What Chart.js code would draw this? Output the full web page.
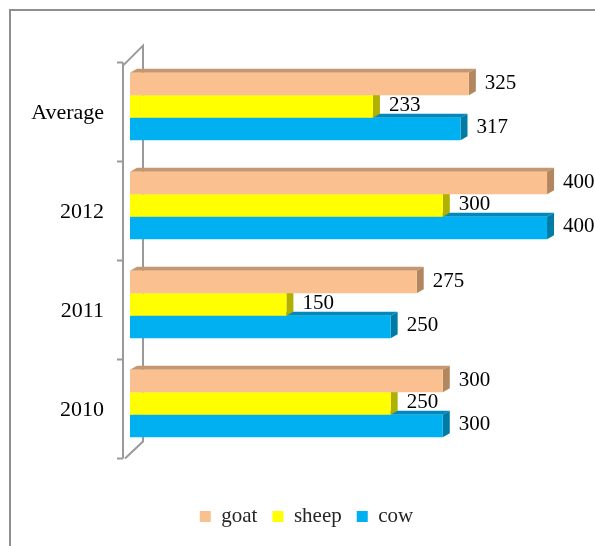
<!DOCTYPE html>
<html lang="en">
<head>
    <meta charset="UTF-8">
    <title>goat sheep cow</title>
    <script src="https://cdn.jsdelivr.net/npm/chart.js"></script>
    <style>
        html, body { margin: 0; padding: 0; background: #fff; overflow: hidden; }
        #wrap { width: 595px; height: 546px; position: relative; }
    </style>
</head>
<body>
<div id="wrap">
    <canvas id="barChart" width="595" height="546"></canvas>
</div>
<script>
    // Data (top to bottom)
    const categories = ['Average', '2012', '2011', '2010'];
    const goat = [325, 400, 275, 300];
    const sheep = [233, 300, 150, 250];
    const cow = [317, 400, 250, 300];

    const seriesNames = ['goat', 'sheep', 'cow'];
    const frontColors = ['#FAC090', '#FFFF00', '#00B0F0'];
    const topColors = ['#C4976F', '#C8C800', '#0089BC'];
    const sideColors = ['#B2875F', '#B0B000', '#007BA6'];

    const DX = 7, DY = 4; // bar depth

    // frame, axis walls and bar depth faces
    const backFaces = {
        id: 'backFaces',
        beforeDraw(chart) {
            const ctx = chart.ctx;
            ctx.save();
            ctx.strokeStyle = '#8f8f8f';
            ctx.lineWidth = 2;
            ctx.strokeRect(10, 10, 800, 800);
            ctx.restore();
        },
        beforeDatasetsDraw(chart) {
            const ctx = chart.ctx;
            const area = chart.chartArea;
            const band = (area.bottom - area.top) / categories.length;
            const fx = area.left - 7, bx = area.left + 13;
            const ft = area.top + 5.6, fb = ft + band * categories.length;
            ctx.save();
            ctx.strokeStyle = '#9a9a9a';
            ctx.lineWidth = 2;
            ctx.beginPath();
            ctx.moveTo(fx, ft); ctx.lineTo(fx, fb);
            for (let i = 0; i <= categories.length; i++) {
                ctx.moveTo(fx - 6, ft + i * band); ctx.lineTo(fx, ft + i * band);
            }
            ctx.moveTo(fx, ft + 3); ctx.lineTo(bx, ft - 17);
            ctx.lineTo(bx, fb - 17);
            ctx.lineTo(fx + 2, fb);
            ctx.stroke();

            // depth faces, lowest series first
            for (let d = 2; d >= 0; d--) {
                const meta = chart.getDatasetMeta(d);
                meta.data.forEach(bar => {
                    const x0 = bar.base, x1 = bar.x;
                    const top = bar.y - bar.height / 2, bot = bar.y + bar.height / 2;
                    ctx.fillStyle = topColors[d];
                    ctx.beginPath();
                    ctx.moveTo(x0, top); ctx.lineTo(x0 + DX, top - DY);
                    ctx.lineTo(x1 + DX, top - DY); ctx.lineTo(x1, top);
                    ctx.closePath(); ctx.fill();
                    ctx.fillStyle = sideColors[d];
                    ctx.beginPath();
                    ctx.moveTo(x1, top); ctx.lineTo(x1 + DX, top - DY);
                    ctx.lineTo(x1 + DX, bot - DY); ctx.lineTo(x1, bot);
                    ctx.closePath(); ctx.fill();
                });
            }
            ctx.restore();
        },
        afterDatasetsDraw(chart) {
            const ctx = chart.ctx;
            ctx.save();
            ctx.font = '21px "Liberation Serif", "Times New Roman", serif';
            ctx.fillStyle = '#000';
            ctx.textAlign = 'left';
            ctx.textBaseline = 'middle';
            chart.data.datasets.forEach((ds, d) => {
                chart.getDatasetMeta(d).data.forEach((bar, i) => {
                    ctx.fillText(ds.data[i], bar.x + DX + 9, bar.y - 1);
                });
            });
            ctx.restore();
        }
    };

    new Chart(document.getElementById('barChart').getContext('2d'), {
        type: 'bar',
        data: {
            labels: categories,
            datasets: [goat, sheep, cow].map((values, i) => ({
                label: seriesNames[i],
                data: values,
                backgroundColor: frontColors[i],
                borderWidth: 0,
                categoryPercentage: 0.68,
                barPercentage: 1
            }))
        },
        options: {
            indexAxis: 'y',
            responsive: false,
            animation: false,
            layout: { padding: { top: 57, left: 18, right: 0, bottom: 9 } },
            scales: {
                x: {
                    min: 0,
                    max: 446,
                    grid: { display: false },
                    border: { display: false },
                    ticks: { display: false },
                    afterFit(scale) { scale.height = 38; }
                },
                y: {
                    grid: { display: false },
                    border: { display: false },
                    ticks: {
                        color: '#000',
                        padding: 18,
                        labelOffset: 7,
                        font: { family: '"Liberation Serif", "Times New Roman", serif', size: 22 }
                    },
                    afterFit(scale) { scale.width = 112; }
                }
            },
            plugins: {
                legend: {
                    position: 'bottom',
                    labels: {
                        boxWidth: 11,
                        boxHeight: 11,
                        padding: 15,
                        color: '#262626',
                        font: { family: '"Liberation Serif", "Times New Roman", serif', size: 21 }
                    }
                },
                tooltip: { enabled: false }
            }
        },
        plugins: [backFaces]
    });
</script>
</body>
</html>
